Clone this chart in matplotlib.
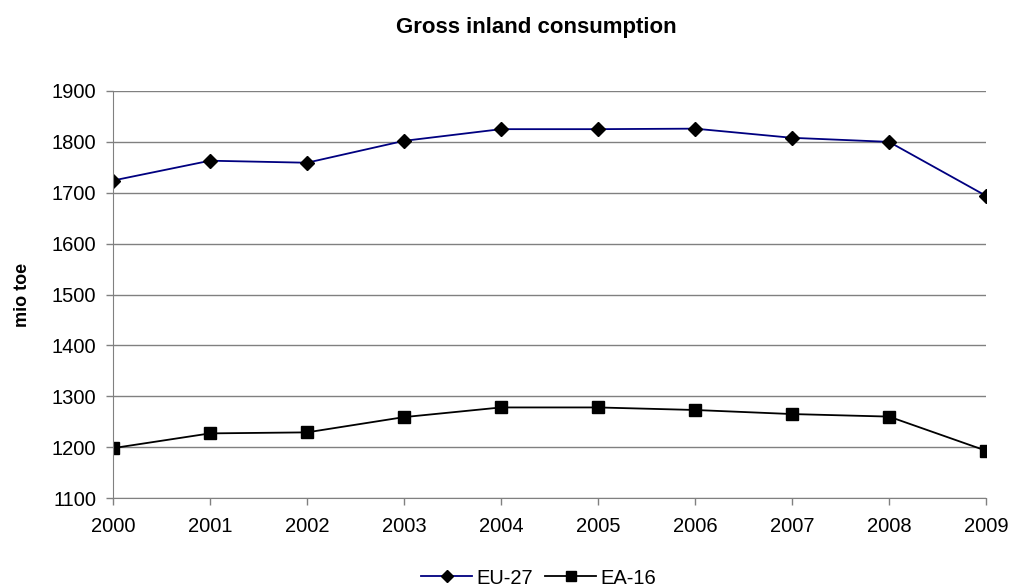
import matplotlib
matplotlib.use('Agg')
import matplotlib.pyplot as plt

years = ['2000', '2001', '2002', '2003', '2004', '2005', '2006', '2007', '2008', '2009']
eu27 = [1724, 1763, 1759, 1802, 1825, 1825, 1826, 1808, 1800, 1694]
ea16 = [1198, 1227, 1229, 1259, 1278, 1278, 1273, 1265, 1260, 1193]

plt.rcParams['font.family'] = ['Liberation Sans', 'DejaVu Sans']

fig = plt.figure(figsize=(10.11, 5.86), dpi=100)
ax = fig.add_axes([113/1011, 1-498/586, (986-113)/1011, (498-91)/586])

x = range(len(years))
ax.plot(x, eu27, color='#000080', lw=1.3, marker='D', ms=7, mfc='black', mec='black', label='EU-27')
ax.plot(x, ea16, color='black', lw=1.3, marker='s', ms=9, mfc='black', mec='black', label='EA-16')

ax.set_xlim(0, len(years)-1)
ax.set_ylim(1100, 1900)
ax.set_yticks(range(1100, 1901, 100))
ax.set_xticks(list(x))
ax.set_xticklabels(years)
ax.yaxis.grid(True, color='#808080', lw=1)
ax.set_axisbelow(True)
for s in ['top', 'right']:
    ax.spines[s].set_visible(False)
for s in ['left', 'bottom']:
    ax.spines[s].set_color('#808080')
ax.tick_params(axis='both', colors='#808080', labelcolor='black', labelsize=14.5, length=5, width=1)
ax.tick_params(axis='y', pad=7)
ax.tick_params(axis='x', pad=9)
ax.set_ylabel('mio toe', fontsize=13, fontweight='bold')
ax.yaxis.set_label_coords(-(113-31)/873, 0.5)
fig.text(536/1011, 1-27/586, 'Gross inland consumption', ha='center', va='center',
         fontsize=16, fontweight='bold')

ax.legend(loc='center', bbox_to_anchor=(539/1011, 1-578/586), bbox_transform=fig.transFigure,
          ncol=2, frameon=False, fontsize=14.5, markerscale=0.85,
          handlelength=2.5, columnspacing=0.6, handletextpad=0.25)

fig.savefig('out.png', dpi=100)
